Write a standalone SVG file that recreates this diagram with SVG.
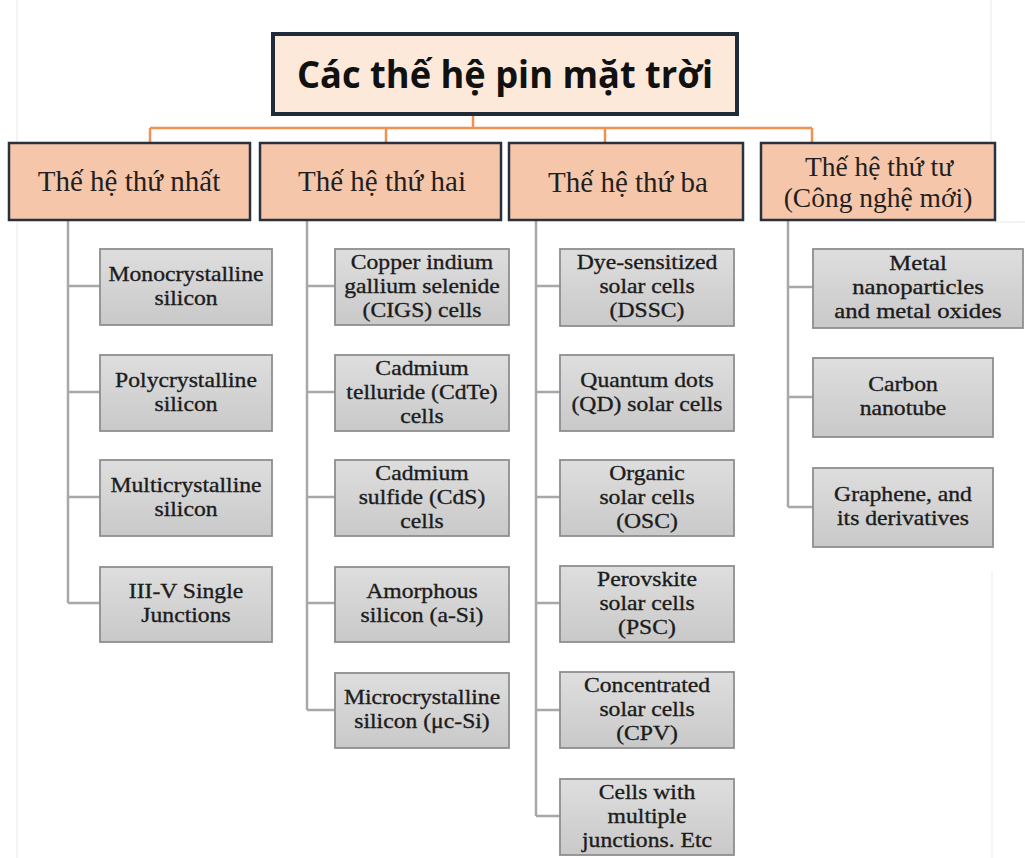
<svg xmlns="http://www.w3.org/2000/svg" width="1025" height="858" viewBox="0 0 1025 858">
<defs>
<linearGradient id="leafGrad" x1="0" y1="0" x2="0" y2="1">
<stop offset="0" stop-color="#dedede"/>
<stop offset="1" stop-color="#c9c9c9"/>
</linearGradient>
<style>
.bg{fill:#ffffff}
.faint{stroke:#f0f0f0;stroke-width:1.5;fill:none}
.title{fill:#fde9d9;stroke:#1f2b38;stroke-width:4}
.titletext{font-family:"Open Sans","Noto Sans",sans-serif;font-weight:700;font-size:38px;fill:#111111}
.gen{fill:#f6c6ab;stroke:#27323e;stroke-width:2.5}
.gentext{font-family:"Liberation Serif","DejaVu Serif",serif;font-size:29px;fill:#231f20;text-anchor:middle}
.leaf{fill:url(#leafGrad);stroke:#8e8e8e;stroke-width:1.8}
.leaftext{font-family:"Liberation Serif","DejaVu Serif",serif;font-size:21.5px;fill:#1c1c1c;stroke:#1c1c1c;stroke-width:0.35;text-anchor:middle}
.orange{stroke:#ef9152;stroke-width:2.5;fill:none}
.gray{stroke:#a8a8a8;stroke-width:2.5;fill:none}
</style>
</defs>
<rect class="bg" x="0" y="0" width="1025" height="858"/>
<g id="background-edges">
<line class="faint" x1="17" y1="0" x2="17" y2="858"/>
<line class="faint" x1="991" y1="0" x2="991" y2="222"/>
<line class="faint" x1="995" y1="222" x2="1025" y2="222"/>
<line class="faint" x1="992" y1="572" x2="992" y2="858"/>
</g>

<g id="connectors">
<path class="orange" d="M473 115 V128 M150 128 H812 M150 128 V142 M386 128 V142 M605 128 V142 M812 128 V142"/>
<path class="gray" d="M68 220 V603 M68 286 H100 M68 392 H100 M68 497 H100 M68 603 H100"/>
<path class="gray" d="M307 220 V710 M307 286 H335 M307 392 H335 M307 497 H335 M307 603 H335 M307 710 H335"/>
<path class="gray" d="M536 220 V816 M536 286 H560 M536 392 H560 M536 497 H560 M536 603 H560 M536 710 H560 M536 816 H560"/>
<path class="gray" d="M788 220 V507 M788 287 H813 M788 397 H813 M788 507 H813"/>
</g>

<g id="root">
<rect class="title" x="273" y="34" width="464" height="80"/>
<text class="titletext" x="297" y="88" textLength="416" lengthAdjust="spacingAndGlyphs">Các thế hệ pin mặt trời</text>
</g>

<g id="gen1">
<rect class="gen" x="9" y="143" width="241" height="77"/>
<text class="gentext" x="129" y="191">Thế hệ thứ nhất</text>
</g>
<g id="gen2">
<rect class="gen" x="260" y="143" width="241" height="77"/>
<text class="gentext" x="382" y="191">Thế hệ thứ hai</text>
</g>
<g id="gen3">
<rect class="gen" x="509" y="143" width="234" height="77"/>
<text class="gentext" x="628" y="192">Thế hệ thứ ba</text>
</g>
<g id="gen4">
<rect class="gen" x="761" y="143" width="234" height="77"/>
<text class="gentext" style="font-size:27.5px"><tspan x="879" y="176">Thế hệ thứ tư</tspan><tspan x="878" y="207">(Công nghệ mới)</tspan></text>
</g>

<g id="mono">
<rect class="leaf" x="100" y="249" width="172" height="76"/>
<text class="leaftext" transform="matrix(1.1 0 0 1 186 0)"><tspan x="0" y="281">Monocrystalline</tspan><tspan x="0" y="305">silicon</tspan></text>
</g>
<g id="poly">
<rect class="leaf" x="100" y="355" width="172" height="76"/>
<text class="leaftext" transform="matrix(1.1 0 0 1 186 0)"><tspan x="0" y="387">Polycrystalline</tspan><tspan x="0" y="411">silicon</tspan></text>
</g>
<g id="multi">
<rect class="leaf" x="100" y="460" width="172" height="76"/>
<text class="leaftext" transform="matrix(1.1 0 0 1 186 0)"><tspan x="0" y="492">Multicrystalline</tspan><tspan x="0" y="516">silicon</tspan></text>
</g>
<g id="iiiv">
<rect class="leaf" x="100" y="567" width="172" height="75"/>
<text class="leaftext" transform="matrix(1.1 0 0 1 186 0)"><tspan x="0" y="598.5">III-V Single</tspan><tspan x="0" y="622.5">Junctions</tspan></text>
</g>

<g id="cigs">
<rect class="leaf" x="335" y="249" width="174" height="76"/>
<text class="leaftext" transform="matrix(1.1 0 0 1 422 0)"><tspan x="0" y="269">Copper indium</tspan><tspan x="0" y="293">gallium selenide</tspan><tspan x="0" y="317">(CIGS) cells</tspan></text>
</g>
<g id="cdte">
<rect class="leaf" x="335" y="355" width="174" height="76"/>
<text class="leaftext" transform="matrix(1.1 0 0 1 422 0)"><tspan x="0" y="375">Cadmium</tspan><tspan x="0" y="399">telluride (CdTe)</tspan><tspan x="0" y="423">cells</tspan></text>
</g>
<g id="cds">
<rect class="leaf" x="335" y="460" width="174" height="76"/>
<text class="leaftext" transform="matrix(1.1 0 0 1 422 0)"><tspan x="0" y="480">Cadmium</tspan><tspan x="0" y="504">sulfide (CdS)</tspan><tspan x="0" y="528">cells</tspan></text>
</g>
<g id="asi">
<rect class="leaf" x="335" y="567" width="174" height="75"/>
<text class="leaftext" transform="matrix(1.1 0 0 1 422 0)"><tspan x="0" y="598.5">Amorphous</tspan><tspan x="0" y="622.5">silicon (a-Si)</tspan></text>
</g>
<g id="ucsi">
<rect class="leaf" x="335" y="673" width="174" height="75"/>
<text class="leaftext" transform="matrix(1.1 0 0 1 422 0)"><tspan x="0" y="704.5">Microcrystalline</tspan><tspan x="0" y="728.5">silicon (μc-Si)</tspan></text>
</g>

<g id="dssc">
<rect class="leaf" x="560" y="249" width="174" height="77"/>
<text class="leaftext" transform="matrix(1.1 0 0 1 647 0)"><tspan x="0" y="269.5">Dye-sensitized</tspan><tspan x="0" y="293.5">solar cells</tspan><tspan x="0" y="317.5">(DSSC)</tspan></text>
</g>
<g id="qd">
<rect class="leaf" x="560" y="355" width="174" height="76"/>
<text class="leaftext" transform="matrix(1.1 0 0 1 647 0)"><tspan x="0" y="387">Quantum dots</tspan><tspan x="0" y="411">(QD) solar cells</tspan></text>
</g>
<g id="osc">
<rect class="leaf" x="560" y="460" width="174" height="76"/>
<text class="leaftext" transform="matrix(1.1 0 0 1 647 0)"><tspan x="0" y="480">Organic</tspan><tspan x="0" y="504">solar cells</tspan><tspan x="0" y="528">(OSC)</tspan></text>
</g>
<g id="psc">
<rect class="leaf" x="560" y="566" width="174" height="76"/>
<text class="leaftext" transform="matrix(1.1 0 0 1 647 0)"><tspan x="0" y="586">Perovskite</tspan><tspan x="0" y="610">solar cells</tspan><tspan x="0" y="634">(PSC)</tspan></text>
</g>
<g id="cpv">
<rect class="leaf" x="560" y="672" width="174" height="76"/>
<text class="leaftext" transform="matrix(1.1 0 0 1 647 0)"><tspan x="0" y="692">Concentrated</tspan><tspan x="0" y="716">solar cells</tspan><tspan x="0" y="740">(CPV)</tspan></text>
</g>
<g id="multijunction">
<rect class="leaf" x="560" y="779" width="174" height="76"/>
<text class="leaftext" transform="matrix(1.1 0 0 1 647 0)"><tspan x="0" y="799">Cells with</tspan><tspan x="0" y="823">multiple</tspan><tspan x="0" y="847">junctions. Etc</tspan></text>
</g>

<g id="metal">
<rect class="leaf" x="813" y="249" width="210" height="79"/>
<text class="leaftext" transform="matrix(1.15 0 0 1 918 0)"><tspan x="0" y="270.5">Metal</tspan><tspan x="0" y="294.5">nanoparticles</tspan><tspan x="0" y="318.5">and metal oxides</tspan></text>
</g>
<g id="carbon">
<rect class="leaf" x="813" y="358" width="180" height="79"/>
<text class="leaftext" transform="matrix(1.1 0 0 1 903 0)"><tspan x="0" y="391.5">Carbon</tspan><tspan x="0" y="415.5">nanotube</tspan></text>
</g>
<g id="graphene">
<rect class="leaf" x="813" y="468" width="180" height="79"/>
<text class="leaftext" transform="matrix(1.1 0 0 1 903 0)"><tspan x="0" y="501.5">Graphene, and</tspan><tspan x="0" y="525.5">its derivatives</tspan></text>
</g>
</svg>
